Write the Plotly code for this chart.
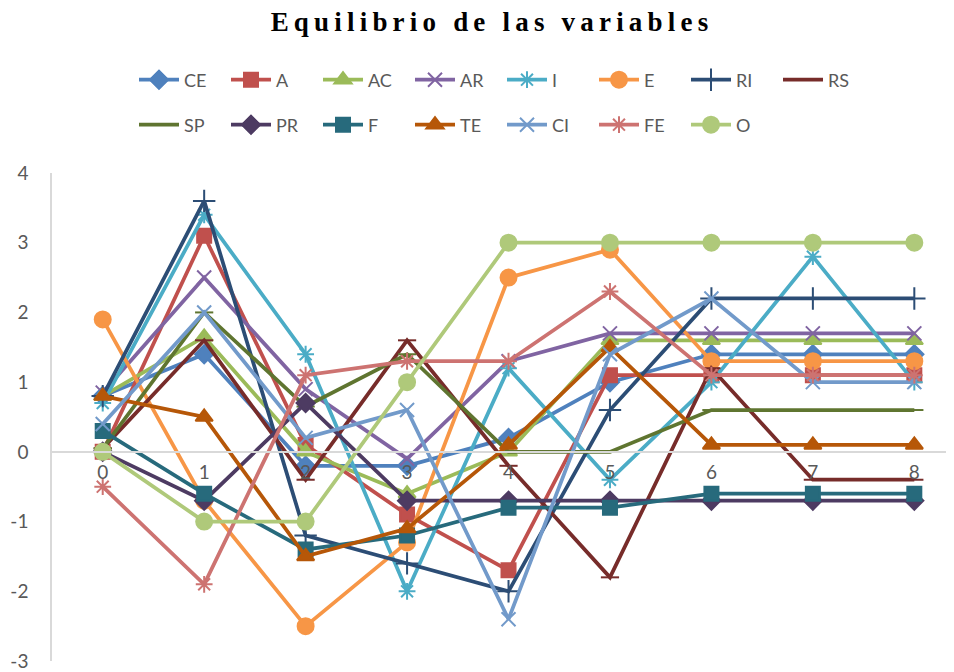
import plotly.graph_objects as go

# categorias (eje x)
x_cats = [0, 1, 2, 3, 4, 5, 6, 7, 8]

# series
CE = [0.8, 1.4, -0.2, -0.2, 0.2, 1.0, 1.4, 1.4, 1.4]
A = [0, 3.1, 0.1, -0.9, -1.7, 1.1, 1.1, 1.1, 1.1]
AC = [0.8, 1.65, 0, -0.6, 0, 1.6, 1.6, 1.6, 1.6]
AR = [0.85, 2.5, 0.9, -0.1, 1.3, 1.7, 1.7, 1.7, 1.7]
I = [0.7, 3.4, 1.4, -2.0, 1.2, -0.4, 1.0, 2.8, 1.0]
E = [1.9, -0.7, -2.5, -1.3, 2.5, 2.9, 1.3, 1.3, 1.3]
RI = [0.8, 3.6, -1.2, -1.6, -2.0, 0.6, 2.2, 2.2, 2.2]
RS = [0.05, 1.6, -0.4, 1.6, -0.2, -1.8, 1.2, -0.4, -0.4]
SP = [0.05, 2.0, 0.65, 1.4, 0, 0, 0.6, 0.6, 0.6]
PR = [0, -0.7, 0.7, -0.7, -0.7, -0.7, -0.7, -0.7, -0.7]
F = [0.3, -0.6, -1.4, -1.2, -0.8, -0.8, -0.6, -0.6, -0.6]
TE = [0.8, 0.5, -1.5, -1.1, 0.1, 1.5, 0.1, 0.1, 0.1]
CI = [0.4, 2.0, 0.2, 0.6, -2.4, 1.4, 2.2, 1.0, 1.0]
FE = [-0.5, -1.9, 1.1, 1.3, 1.3, 2.3, 1.1, 1.1, 1.1]
O = [0, -1, -1, 1.0, 3, 3, 3, 3, 3]

y_ticks = [-3, -2, -1, 0, 1, 2, 3, 4]
y_ticktext = [str(v) for v in y_ticks]

series = [
    ("CE", CE, "#4F81BD", "diamond", 14),
    ("A", A, "#C0504D", "square", 14),
    ("AC", AC, "#9BBB59", "triangle-up", 15),
    ("AR", AR, "#8064A2", "x-thin-open", 14),
    ("I", I, "#4BACC6", "asterisk-open", 14),
    ("E", E, "#F79646", "circle", 16),
    ("RI", RI, "#2C4D75", "cross-thin-open", 16),
    ("RS", RS, "#772C2A", "line-ew-open", 13),
    ("SP", SP, "#5F7530", "line-ew-open", 13),
    ("PR", PR, "#4D3B62", "diamond", 14),
    ("F", F, "#276A7C", "square", 14),
    ("TE", TE, "#B65708", "triangle-up", 15),
    ("CI", CI, "#729ACA", "x-thin-open", 14),
    ("FE", FE, "#CD7371", "asterisk-open", 14),
    ("O", O, "#AFC97A", "circle", 16),
]

fig = go.Figure()
for i, (name, vals, col, sym, sz) in enumerate(series):
    fig.add_trace(go.Scatter(
        x=x_cats, y=vals, name=name, mode="lines+markers",
        line=dict(color=col, width=3.75),
        marker=dict(symbol=sym, size=sz, color=col, line=dict(color=col, width=2)),
        legend="legend" if i < 8 else "legend2",
    ))

ymin, ymax = y_ticks[0], y_ticks[-1]
leg_font = dict(family="Lato, Noto Sans, sans-serif", size=18, color="#595959")

# the page body adds an 8px offset, so positions below are shifted by -8
fig.update_layout(
    width=954, height=672,
    margin=dict(l=44, r=0, t=165, b=19, autoexpand=False),
    paper_bgcolor="white", plot_bgcolor="white",
    title=dict(
        text='<span style="letter-spacing:5.2px">Equilibrio de las variables</span>',
        x=484 / 954, xanchor="center", y=1 - 14 / 672, yanchor="middle",
        font=dict(family="Liberation Serif, Times New Roman, serif", size=27, color="black", weight="bold"),
    ),
    legend=dict(orientation="h", xref="container", yref="container",
                x=126 / 954, y=1 - 72 / 672, xanchor="left", yanchor="middle",
                entrywidth=37, entrywidthmode="pixels", itemwidth=40, font=leg_font),
    legend2=dict(orientation="h", xref="container", yref="container",
                 x=126 / 954, y=1 - 117 / 672, xanchor="left", yanchor="middle",
                 entrywidth=37, entrywidthmode="pixels", itemwidth=40, font=leg_font),
    xaxis=dict(
        range=[-0.5, 8.47], tickvals=x_cats, showgrid=False, zeroline=False,
        showline=True, linecolor="#D9D9D9", linewidth=1.5,
        anchor="free", position=(0 - ymin) / (ymax - ymin),
        ticks="", ticklabelstandoff=4,
        tickfont=dict(family="Lato, Noto Sans, sans-serif", size=19, color="#595959"),
    ),
    yaxis=dict(
        range=[ymin, ymax], tickvals=y_ticks, ticktext=y_ticktext,
        showgrid=False, zeroline=False, showline=True, linecolor="#D9D9D9", linewidth=1.5,
        ticks="", ticklabelstandoff=18,
        tickfont=dict(family="Lato, Noto Sans, sans-serif", size=19, color="#595959"),
    ),
)

fig.write_html("out.html")
